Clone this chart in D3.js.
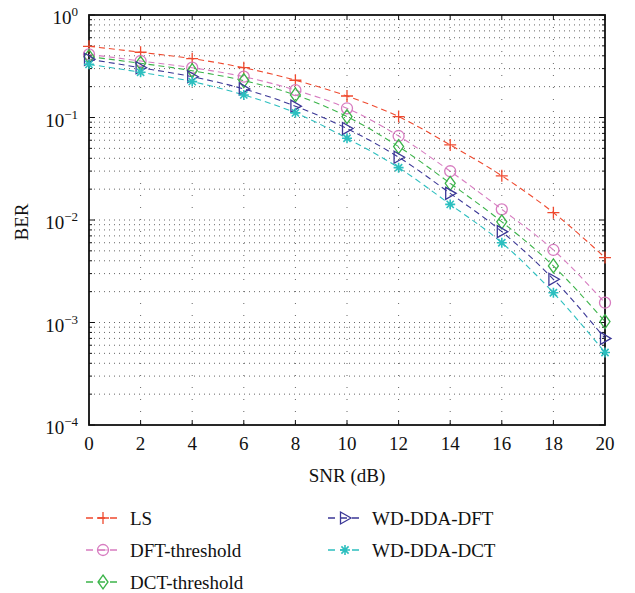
<!DOCTYPE html>
<html><head><meta charset="utf-8">
<script src="https://cdn.jsdelivr.net/npm/d3@7"></script>
<style>body{margin:0;background:#fff}svg{display:block}</style>
</head><body><svg id="c" width="635" height="593"></svg>
<script>
const snr = [0,2,4,6,8,10,12,14,16,18,20];
const seriesNames = ["LS","DFT-threshold","DCT-threshold","WD-DDA-DFT","WD-DDA-DCT"];
const berLS   = [0.495,0.433,0.375,0.306,0.231,0.162,0.102,0.054,0.027,0.0118,0.0043];
const berDFT  = [0.413,0.356,0.306,0.250,0.185,0.123,0.066,0.0299,0.0127,0.0051,0.00156];
const berDCT  = [0.392,0.338,0.286,0.229,0.166,0.102,0.052,0.0228,0.0096,0.00356,0.00102];
const berWDFT = [0.370,0.306,0.250,0.190,0.129,0.078,0.041,0.0182,0.0077,0.00264,0.00070];
const berWDCT = [0.330,0.276,0.224,0.166,0.111,0.0627,0.0324,0.0142,0.0060,0.00195,0.00051];
const xTicks = [0,2,4,6,8,10,12,14,16,18,20];
const yTickExps = [0,-1,-2,-3,-4];
const colors = ["#ef4a2f","#d77cc0","#3cb44a","#3b3796","#2cbfbf"];
const markers = ["plus","circle","diamond","triangle","star"];
const allSeries = [berLS,berDFT,berDCT,berWDFT,berWDCT];

const L=89,R=605,T=15,B=425;
const x=d3.scaleLinear().domain([0,20]).range([L,R]);
const y=d3.scaleLog().domain([1e-4,1]).range([B,T]);
const svg=d3.select("#c").attr("font-family","'Liberation Serif','DejaVu Serif','Times New Roman',serif");
const FS=19;

// grid
const minorVals=[];
for(let e=-4;e<0;e++) for(let m=1;m<10;m++) minorVals.push(m*Math.pow(10,e));
minorVals.push(1);
const grid=svg.append("g");
grid.selectAll("line.h").data(minorVals.filter(v=>v>1e-4&&v<1)).enter().append("line")
 .attr("x1",L).attr("x2",R).attr("y1",d=>y(d)).attr("y2",d=>y(d))
 .attr("stroke","#666").attr("stroke-width",1).attr("stroke-dasharray","1,4");
grid.selectAll("line.v").data(xTicks.filter(v=>v>0&&v<20)).enter().append("line")
 .attr("x1",d=>x(d)).attr("x2",d=>x(d)).attr("y1",T).attr("y2",B)
 .attr("stroke","#666").attr("stroke-width",1).attr("stroke-dasharray","1,11");

// ticks
const tk=svg.append("g").attr("stroke","#111").attr("stroke-width",1);
minorVals.forEach(v=>{
  const major=Math.abs(Math.log10(v)-Math.round(Math.log10(v)))<1e-9;
  const len=major?6:3;
  tk.append("line").attr("x1",L).attr("x2",L+len).attr("y1",y(v)).attr("y2",y(v));
  tk.append("line").attr("x1",R).attr("x2",R-len).attr("y1",y(v)).attr("y2",y(v));
});
xTicks.forEach(v=>{
  tk.append("line").attr("x1",x(v)).attr("x2",x(v)).attr("y1",B).attr("y2",B-5);
  tk.append("line").attr("x1",x(v)).attr("x2",x(v)).attr("y1",T).attr("y2",T+5);
});

// frame
svg.append("rect").attr("x",L).attr("y",T).attr("width",R-L).attr("height",B-T)
 .attr("fill","none").attr("stroke","#111").attr("stroke-width",1.8);

// x tick labels
svg.append("g").selectAll("text").data(xTicks).enter().append("text")
 .attr("x",d=>x(d)).attr("y",450).attr("text-anchor","middle").attr("font-size",FS).attr("fill","#111").text(d=>d);
// y tick labels
const yl=svg.append("g");
yTickExps.forEach(e=>{
  const t=yl.append("text").attr("x",78).attr("y",y(Math.pow(10,e))+9).attr("text-anchor","end").attr("font-size",FS).attr("fill","#111");
  t.append("tspan").text("10");
  t.append("tspan").attr("dy",-8).attr("font-size",13).text(e===0?"0":"\u2212"+(-e));
});
// axis titles
svg.append("text").attr("x",347).attr("y",482).attr("text-anchor","middle").attr("font-size",FS).attr("fill","#111").text("SNR (dB)");
svg.append("text").attr("transform","translate(28,222) rotate(-90)").attr("text-anchor","middle").attr("font-size",FS).attr("fill","#111").text("BER");

function drawMarker(g,type,cx,cy,col,legend){
  const s=g.append("g").attr("transform",`translate(${cx},${cy})`).attr("stroke",col).attr("fill","none").attr("stroke-width",1.3);
  if(type==="plus"){s.append("path").attr("d","M-6,0H6M0,-6V6");}
  else if(type==="circle"){s.append("circle").attr("r",5.5); if(legend) s.append("path").attr("d","M-5.5,0H5.5").attr("stroke-width",0.8);}
  else if(type==="diamond"){s.append("path").attr("d","M0,-7L5,0L0,7L-5,0Z");}
  else if(type==="triangle"){s.append("path").attr("d","M-4.5,-6L6,0L-4.5,6Z");}
  else if(type==="star"){s.append("path").attr("d","M-5,0H5M0,-5V5M-3.6,-3.6L3.6,3.6M-3.6,3.6L3.6,-3.6").attr("stroke-width",1.6);}
}

const line=d3.line().x((d,i)=>x(snr[i])).y(d=>y(d)).curve(d3.curveMonotoneX);
const plot=svg.append("g");
allSeries.forEach((vals,k)=>{
  plot.append("path").attr("d",line(vals)).attr("fill","none").attr("stroke",colors[k])
   .attr("stroke-width",1.1).attr("stroke-dasharray","6,4");
});
allSeries.forEach((vals,k)=>{
  vals.forEach((v,i)=>drawMarker(plot,markers[k],x(snr[i]),y(v),colors[k],false));
});

// legend
const leg=svg.append("g");
const legPos=[[86,518],[86,550],[86,582],[328,518],[328,550]];
seriesNames.forEach((n,k)=>{
  const [lx,ly]=legPos[k];
  leg.append("line").attr("x1",lx).attr("x2",lx+33).attr("y1",ly).attr("y2",ly)
   .attr("stroke",colors[k]).attr("stroke-width",1.3).attr("stroke-dasharray","7,5");
  drawMarker(leg,markers[k],lx+17,ly,colors[k],true);
  leg.append("text").attr("x",lx+44).attr("y",ly+7).attr("font-size",FS).attr("fill","#111").text(n);
});
</script></body></html>
